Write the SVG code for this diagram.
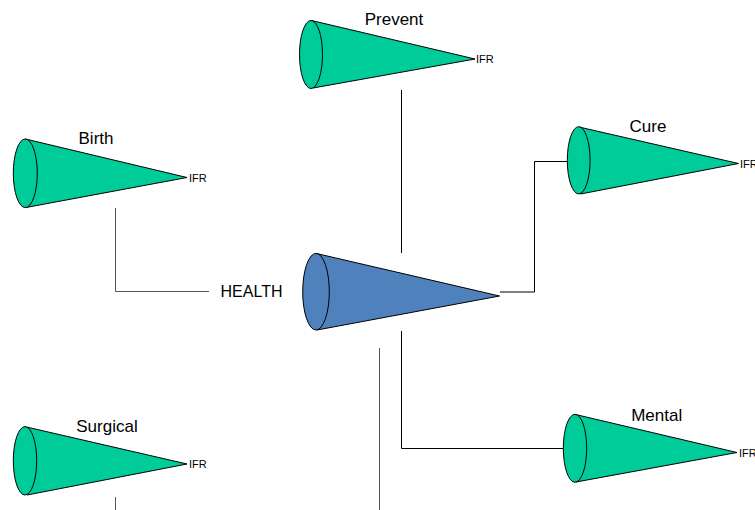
<svg xmlns="http://www.w3.org/2000/svg" width="755" height="510" viewBox="0 0 755 510">
<style>
.g{fill:#00CC99;stroke:#000;stroke-width:1}
.b{fill:#4F81BD;stroke:#000;stroke-width:1}
.lbl{font-family:"Liberation Sans",Arial,sans-serif;font-size:17px;fill:#000;text-anchor:middle}
.ifr{font-family:"Liberation Sans",Arial,sans-serif;font-size:11px;fill:#000}
.c{fill:none;stroke:#000;stroke-width:1}
.cg{fill:none;stroke:#555;stroke-width:1}
</style>
<rect width="755" height="510" fill="#fff"/>
<g id="connectors">
<polyline class="c" points="401.5,90 401.5,253"/>
<polyline class="cg" points="115.5,208 115.5,291.5 209,291.5"/>
<polyline class="c" points="500,292 534.5,292 534.5,161.5 567,161.5"/>
<polyline class="c" points="401.5,331 401.5,448.5 563,448.5"/>
<line class="cg" x1="379.5" y1="348" x2="379.5" y2="510"/>
<line class="cg" x1="115.5" y1="497" x2="115.5" y2="510"/>
</g>
<g id="prevent">
<polygon class="g" points="311.5,20.5 475,59 313,88"/>
<ellipse class="g" cx="311" cy="54.5" rx="11.5" ry="34"/>
<text class="lbl" x="394" y="25">Prevent</text>
<text class="ifr" x="476" y="63">IFR</text>
</g>
<g id="birth">
<polygon class="g" points="25.5,139 187,177.5 26,207.5"/>
<ellipse class="g" cx="25.3" cy="173.3" rx="12" ry="34.3"/>
<text class="lbl" x="96" y="144">Birth</text>
<text class="ifr" x="189" y="182">IFR</text>
</g>
<g id="health">
<polygon class="b" points="316.5,253.5 499.5,296 317,330"/>
<ellipse class="b" cx="316" cy="291.7" rx="13.3" ry="38.3"/>
<text class="lbl" x="251.5" y="297" style="font-size:16px">HEALTH</text>
</g>
<g id="cure">
<polygon class="g" points="579,127 738.5,163.5 580.5,194"/>
<ellipse class="g" cx="578.7" cy="160.3" rx="11.4" ry="33.6"/>
<text class="lbl" x="648" y="132">Cure</text>
<text class="ifr" x="740" y="168">IFR</text>
</g>
<g id="mental">
<polygon class="g" points="575.5,414.5 737,452.5 576,482"/>
<ellipse class="g" cx="575" cy="448.3" rx="11.7" ry="34"/>
<text class="lbl" x="656.7" y="420.5">Mental</text>
<text class="ifr" x="739" y="457">IFR</text>
</g>
<g id="surgical">
<polygon class="g" points="26.5,427 187,464 27,495"/>
<ellipse class="g" cx="25" cy="460.8" rx="11.7" ry="34.2"/>
<text class="lbl" x="107" y="431.5">Surgical</text>
<text class="ifr" x="189" y="468">IFR</text>
</g>
</svg>
